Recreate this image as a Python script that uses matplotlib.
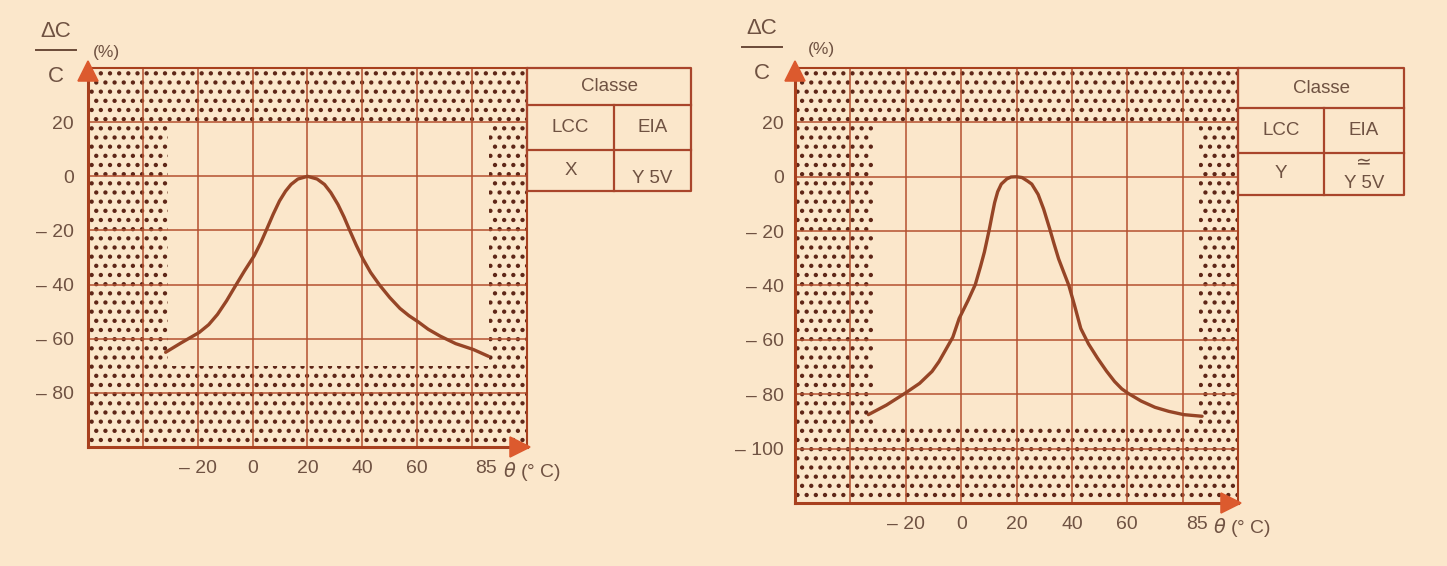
import matplotlib
matplotlib.use("Agg")
from matplotlib import pyplot as plt
from matplotlib.patches import Rectangle
from matplotlib.lines import Line2D
from matplotlib.transforms import offset_copy

DPI = 110
S = 100 / DPI  # storlekar angivna för 100 dpi skalas om

plt.rcParams['font.family'] = ['Liberation Sans', 'DejaVu Sans']
plt.rcParams['hatch.linewidth'] = 1.6

BG = '#fbe7cb'
GRID = '#b4502f'
CURVE = '#964526'
DOTS = '#5e2617'
ARROW = '#dc5a2e'
TEXT = '#6f5242'

# Temperatur (grader C) och kapacitansändring (%) avlästa ur kurvorna
temp_x = [-31.7, -26.0, -19.5, -16.0, -12.8, -9.5, -6.1, -3.0, 0.6, 3.0, 4.9, 7.5,
          9.8, 12.0, 14.0, 16.5, 20.0, 23.5, 26.2, 28.5, 31.1, 33.3, 35.4, 37.8,
          40.2, 43.0, 46.3, 50.0, 53.7, 57.0, 60.4, 64.0, 68.3, 74.0, 80.5, 86.0]
dc_x = [-65.0, -61.5, -57.7, -54.8, -51.0, -46.0, -40.2, -35.0, -29.3, -24.5, -20.1, -14.0,
        -9.1, -5.5, -3.0, -1.0, 0.0, -1.0, -3.0, -6.0, -10.4, -15.0, -20.0, -25.5,
        -30.5, -35.5, -40.2, -44.8, -48.8, -51.5, -53.8, -56.5, -59.0, -61.8, -64.0, -66.5]

temp_y = [-33.5, -27.0, -20.2, -15.0, -10.5, -8.0, -5.6, -3.0, -0.7, 2.5, 5.1, 7.0,
          8.4, 9.4, 10.2, 11.2, 12.1, 13.2, 14.5, 16.5, 18.0, 20.0, 22.0, 24.0, 25.5,
          27.8, 29.8, 32.0, 33.5, 35.2, 37.0, 38.9, 41.0, 43.2, 46.0, 49.3, 52.5,
          55.4, 58.0, 60.2, 65.0, 70.0, 75.0, 80.4, 87.0]
dc_y = [-87.5, -84.0, -79.6, -76.0, -71.6, -68.0, -63.7, -59.0, -52.1, -45.5, -39.7, -33.0,
        -27.7, -23.0, -19.2, -14.0, -9.5, -5.5, -2.7, -0.8, -0.1, 0.0, -0.3, -1.6, -2.7,
        -6.5, -11.9, -19.2, -24.5, -30.2, -35.0, -40.0, -47.5, -55.8, -61.5, -66.8, -71.5,
        -75.3, -78.0, -79.6, -82.5, -84.8, -86.3, -87.5, -88.1]

# toleransfönster: (tmin, tmax, dcmin, dcmax)
box_x = (-31, 86, -70, 20)
box_y = (-32, 86, -92, 20)

x_ticks = [-20, 0, 20, 40, 60, 85]
x_labels = ['\u2013 20', '0', '20', '40', '60', '85']
y_ticks_x = [20, 0, -20, -40, -60, -80]
y_ticks_y = [20, 0, -20, -40, -60, -80, -100]

table_x = [('LCC', 'EIA'), ('X', 'Y 5V')]
table_y = [('LCC', 'EIA'), ('Y', 'Y 5V')]

FS = 14 * S
TFS = 13.5 * S


def draw_chart(ax, temps, dc, ylow, box, yticks, xpad, ypad):
    xmin, xmax, ymax = -60, 100, 40
    ax.set_facecolor(BG)
    ax.set_xlim(xmin, xmax)
    ax.set_ylim(ylow, ymax)

    # prickade områden utanför toleransfönstret
    tmin, tmax, cmin, cmax = box
    regions = [(xmin, cmax, xmax - xmin, ymax - cmax),
               (xmin, ylow, xmax - xmin, cmin - ylow),
               (xmin, cmin, tmin - xmin, cmax - cmin),
               (tmax, cmin, xmax - tmax, cmax - cmin)]
    for x0, y0, w, h in regions:
        ax.add_patch(Rectangle((x0, y0), w, h, facecolor='none', edgecolor=DOTS,
                               linewidth=0, hatch='..', zorder=1))

    for gx in range(-40, 100, 20):
        ax.axvline(gx, color=GRID, lw=1.1 * S, zorder=2)
    for gy in range(ylow + 20, ymax, 20):
        ax.axhline(gy, color=GRID, lw=1.1 * S, zorder=2)

    ax.plot(temps, dc, color=CURVE, lw=2.4 * S, zorder=3, solid_capstyle='round',
            solid_joinstyle='round')

    ax.set_xticks(x_ticks)
    ax.set_xticklabels(x_labels)
    ax.set_yticks(yticks)
    ax.set_yticklabels([('\u2013 %d' % -v) if v < 0 else str(v) for v in yticks])
    ax.tick_params(length=0, labelsize=FS, labelcolor=TEXT)
    ax.tick_params(axis='x', pad=xpad * S)
    ax.tick_params(axis='y', pad=ypad * S)

    for side in ['left', 'bottom']:
        ax.spines[side].set_linewidth(2.2 * S)
        ax.spines[side].set_color('#a8401e')
    for side in ['top', 'right']:
        ax.spines[side].set_linewidth(1.5 * S)
        ax.spines[side].set_color('#a8401e')

    fig = ax.figure
    ax.plot(xmin, ymax, marker='^', ms=14 * S, color=ARROW, clip_on=False, zorder=5,
            transform=offset_copy(ax.transData, fig, x=0, y=-3, units='dots'))
    ax.plot(xmax, ylow, marker='>', ms=14 * S, color=ARROW, clip_on=False, zorder=5,
            transform=offset_copy(ax.transData, fig, x=-7, y=0, units='dots'))

    ax.annotate('$\\theta$ (\u00b0 C)', xy=(85, ylow), xycoords='data',
                xytext=(12 * S, -xpad * S), textcoords='offset points', ha='left', va='top',
                fontsize=FS, color=TEXT)


def draw_table(ax, bounds, col_split, row_lines, rows):
    tab = ax.inset_axes(bounds)
    tab.set_xlim(0, 1)
    tab.set_ylim(0, 1)
    tab.axis('off')
    kw = dict(color='#a9452b', lw=1.6 * S, solid_capstyle='projecting', clip_on=False)
    tab.plot([0, 1, 1, 0, 0], [0, 0, 1, 1, 0], **kw)
    for r in row_lines:
        tab.plot([0, 1], [r, r], **kw)
    tab.plot([col_split, col_split], [0, row_lines[0]], **kw)

    tab.text(0.5, (1 + row_lines[0]) / 2, 'Classe', ha='center', va='center',
             fontsize=TFS, color=TEXT)
    mid = (row_lines[0] + row_lines[1]) / 2
    tab.text(col_split / 2, mid, rows[0][0], ha='center', va='center', fontsize=TFS, color=TEXT)
    tab.text((1 + col_split) / 2, mid, rows[0][1], ha='center', va='center', fontsize=TFS, color=TEXT)
    low = row_lines[1] / 2
    tab.text(col_split / 2, low, rows[1][0], ha='center', va='center', fontsize=TFS, color=TEXT)
    return tab, low


fig = plt.figure(figsize=(1447 / DPI, 566 / DPI), dpi=DPI, facecolor=BG)

ax1 = fig.add_axes([0.0608, 0.2102, 0.3034, 0.6696])
draw_chart(ax1, temp_x, dc_x, -100, box_x, y_ticks_x, xpad=9, ypad=10)
tab1, low1 = draw_table(ax1, [1.0, 0.6755, 0.3736, 0.3245], 0.53, [0.699, 0.333], table_x)
tab1.text(0.765, low1 - 0.065, table_x[1][1], ha='center', va='center', fontsize=TFS, color=TEXT)

ax2 = fig.add_axes([0.5494, 0.1113, 0.3062, 0.7686])
draw_chart(ax2, temp_y, dc_y, -120, box_y, y_ticks_y, xpad=9, ypad=8)
tab2, low2 = draw_table(ax2, [1.0, 0.708, 0.3747, 0.292], 0.518, [0.683, 0.333], table_y)
tab2.text(0.759, low2 + 0.075, '\u2243', ha='center', va='center', fontsize=TFS, color=TEXT)
tab2.text(0.759, low2 - 0.075, table_y[1][1], ha='center', va='center', fontsize=TFS, color=TEXT)

# axeltitel dC/C (%)
for cx, ly, px in [(0.0387, 0.9117, 0.0733), (0.5266, 0.917, 0.568)]:
    fig.text(cx, ly + 0.032, '\u0394C', ha='center', va='center', fontsize=16 * S, color=TEXT)
    fig.text(cx, ly - 0.046, 'C', ha='center', va='center', fontsize=16 * S, color=TEXT)
    fig.add_artist(Line2D([cx - 0.0135, cx + 0.0135], [ly, ly], color='#6b4a38', lw=1.4 * S))
    fig.text(px, ly - 0.004, '(%)', ha='center', va='center', fontsize=12.5 * S, color=TEXT)

fig.savefig('out.png', dpi=DPI, facecolor=BG)
